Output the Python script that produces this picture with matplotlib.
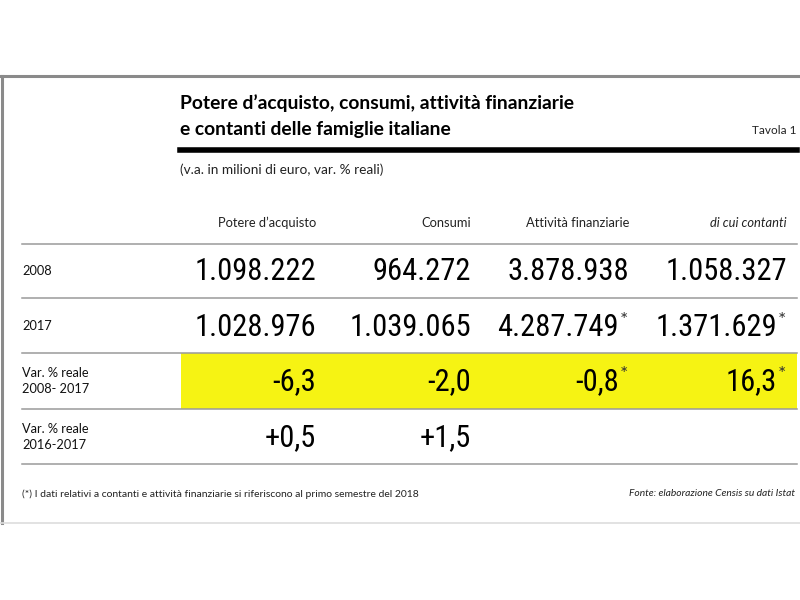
import matplotlib.pyplot as plt
from matplotlib.font_manager import fontManager

# table data
columns = ["Potere d\u2019acquisto", "Consumi", "Attività finanziarie", "di cui contanti"]
row_labels = ["2008", "2017", "Var. % reale\n2008- 2017", "Var. % reale\n2016-2017"]
potere = [1098222, 1028976, -6.3, 0.5]
consumi = [964272, 1039065, -2.0, 1.5]
attivita = [3878938, 4287749, -0.8, None]
contanti = [1058327, 1371629, 16.3, None]
stars = [[False, False, False, False],
         [False, False, True, True],
         [False, False, True, True],
         [False, False, False, False]]

title = "Potere d\u2019acquisto, consumi, attività finanziarie\ne contanti delle famiglie italiane"
subtitle = "(v.a. in milioni di euro, var. % reali)"
note = "(*) I dati relativi a contanti e attività finanziarie si riferiscono al primo semestre del 2018"
source = "Fonte: elaborazione Censis su dati Istat"

names = {f.name for f in fontManager.ttflist}
num_font, num_size = "Roboto", 19.5
for name, size in [("Liberation Sans Narrow", 23), ("Roboto Condensed", 22),
                   ("Open Sans Condensed", 22)]:
    if name in names:
        num_font, num_size = name, size
        break
txt_font = "Lato" if "Lato" in names else "DejaVu Sans"


def fmt(v, row):
    if v is None:
        return ""
    if row < 2:
        return f"{v:,.0f}".replace(",", ".")
    if row == 2:
        return f"{v:.1f}".replace(".", ",")
    return f"{v:+.1f}".replace(".", ",")


fig = plt.figure(figsize=(8, 6), dpi=100)
ax = fig.add_axes([0, 0, 1, 1])
ax.set_xlim(0, 800)
ax.set_ylim(600, 0)
ax.axis("off")

# frame
ax.plot([0, 800], [76, 76], color="#8a8a8a", lw=2.2)
ax.plot([2, 2], [76, 523], color="#8a8a8a", lw=2.2)
ax.plot([0, 800], [523, 523], color="#dddddd", lw=1.2)

for k, line in enumerate(title.split("\n")):
    ax.text(180, 103 + 27 * k, line, fontsize=13.9, fontweight="bold", family=txt_font,
            va="center", ha="left")
ax.text(796, 131, "Tavola 1", fontsize=8.5, family=txt_font, ha="right", va="center",
        color="#222222")
ax.plot([180, 797], [150, 150], color="black", lw=4)
ax.text(180, 170, subtitle, fontsize=9.8, family=txt_font, ha="left", va="center",
        color="#222222")

col_x = [316, 471, 629, 787]
cols = [potere, consumi, attivita, contanti]
for j, c in enumerate(columns):
    ax.text(col_x[j], 223, c, fontsize=9.3, family=txt_font, ha="right", va="center",
            style="italic" if j == 3 else "normal", color="#222222")

# highlight row
ax.fill_between([181, 797], 353, 409, color="#f6f313", lw=0)

lines_y = [244, 298, 353, 409, 464]
for y in lines_y:
    ax.plot([22, 797], [y, y], color="#9a9a9a", lw=1.1)

row_y = [271, 326, 381, 437]
for i, lab in enumerate(row_labels):
    ax.text(22, row_y[i], lab, fontsize=9.2, family=txt_font, ha="left", va="center",
            linespacing=1.45, color="#111111")
    for j, col in enumerate(cols):
        s = fmt(col[i], i)
        if not s:
            continue
        x = col_x[j]
        if stars[i][j]:
            x -= 10
            ax.text(x + 0.5, row_y[i] - 6, "*", fontsize=14, family=txt_font,
                    ha="left", va="center", color="#333333")
        ax.text(x, row_y[i] + 1, s, fontsize=num_size, family=num_font,
                ha="right", va="center")

ax.text(22, 494, note, fontsize=7.45, family=txt_font, ha="left", va="center", color="#222222")
ax.text(795, 494, source, fontsize=7.4, family=txt_font, style="italic", ha="right",
        va="center", color="#222222")

fig.savefig("out.png", dpi=100)
